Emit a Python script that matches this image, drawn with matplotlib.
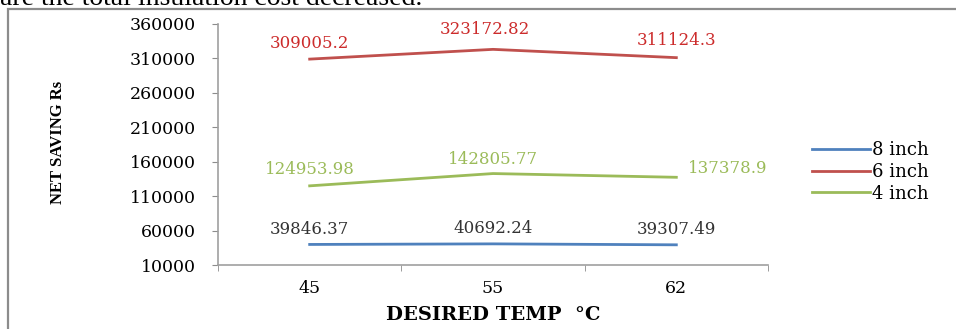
import matplotlib
matplotlib.use("Agg")
import matplotlib.pyplot as plt
from matplotlib.patches import Rectangle

# net saving per pipe size vs desired temperature
temps = ["45", "55", "62"]
series_names = ["8 inch", "6 inch", "4 inch"]
saving_8in = [39846.37, 40692.24, 39307.49]
saving_6in = [309005.2, 323172.82, 311124.3]
saving_4in = [124953.98, 142805.77, 137378.9]
y_ticks = [10000, 60000, 110000, 160000, 210000, 260000, 310000, 360000]

line_colors = ["#4F81BD", "#C0504D", "#9BBB59"]
label_colors = ["#333333", "#CC2B2B", "#9BBB59"]

plt.rcParams["font.family"] = ["DejaVu Serif"]

fig = plt.figure(figsize=(9.56, 3.29), dpi=100)

# surrounding chart frame
fig.patches.append(Rectangle((8 / 956, -0.1), 1.2, 1 - 9 / 329 + 0.1,
                             transform=fig.transFigure, fill=False,
                             edgecolor="#8c8c8c", linewidth=1.6))
# tail of the paragraph above the chart
fig.text(0.0, 1 - 5 / 329, "are the total insulation cost decreased.",
         fontsize=20, family="Liberation Serif", va="baseline", ha="left",
         color="black")

ax = fig.add_axes([218 / 956, 1 - 265 / 329, 550 / 956, 241 / 329])
x = range(len(temps))
all_series = [saving_8in, saving_6in, saving_4in]
for vals, name, c in zip(all_series, series_names, line_colors):
    ax.plot(x, vals, color=c, linewidth=2, label=name, solid_joinstyle="round")

# data labels (offsets in points)
offsets = {
    0: [(0, 11), (0, 11), (0, 11)],
    1: [(0, 11), (-6, 14), (0, 12)],
    2: [(0, 12), (0, 10), (37, 6)],
}
for si, (vals, c) in enumerate(zip(all_series, label_colors)):
    for i, v in enumerate(vals):
        txt = f"{v:.2f}".rstrip("0").rstrip(".")
        ax.annotate(txt, (i, v), xytext=offsets[si][i], textcoords="offset points",
                    ha="center", va="center", color=c, fontsize=12)

ax.set_xlim(-0.5, 2.5)
ax.set_ylim(10000, 360000)
ax.set_yticks(y_ticks)
ax.set_yticklabels([str(t) for t in y_ticks])
ax.set_xticks(list(x))
ax.set_xticklabels(temps)
ax.set_xticks([-0.5, 0.5, 1.5, 2.5], minor=True)
ax.tick_params(axis="x", which="major", length=0, pad=11, labelsize=12.5)
ax.tick_params(axis="x", which="minor", length=4, color="#8c8c8c", direction="out")
ax.tick_params(axis="y", length=4, color="#8c8c8c", labelsize=12.5, pad=12)
for s in ["top", "right"]:
    ax.spines[s].set_visible(False)
for s in ["left", "bottom"]:
    ax.spines[s].set_color("#a0a0a0")
    ax.spines[s].set_linewidth(1.2)

ax.set_xlabel("DESIRED TEMP  \u00b0C", fontsize=14, fontweight="bold", labelpad=6)
fig.text(58 / 956, 1 - 142 / 329, "NET SAVING Rs", rotation=90, fontsize=12,
         fontweight="bold", family="Liberation Serif", ha="center", va="center")

fig.legend(loc="center left", bbox_to_anchor=(805 / 956, 1 - 172 / 329),
           frameon=False, fontsize=13, handlelength=3.2, handletextpad=0.1,
           labelspacing=0.2, borderaxespad=0)

fig.savefig("out.png", dpi=100)
